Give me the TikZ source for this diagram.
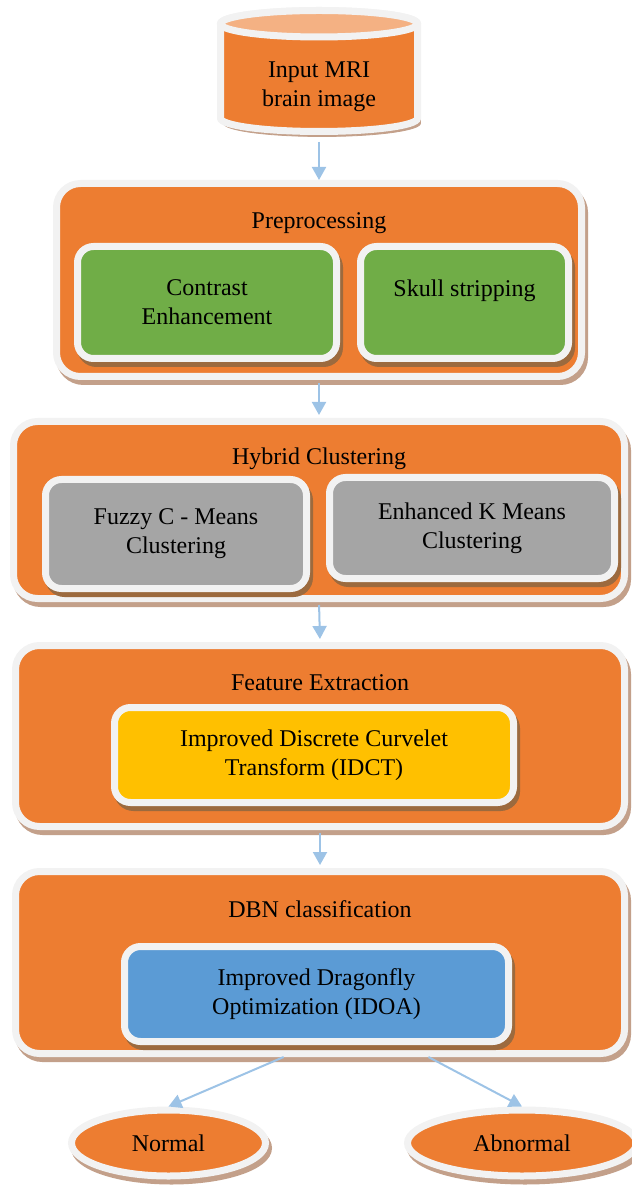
\documentclass[tikz,border=0pt]{standalone}
\usepackage{fontspec}
\setmainfont{Liberation Serif}
\usetikzlibrary{arrows.meta,positioning,shapes.geometric,calc}
\definecolor{ornge}{HTML}{ED7D31}
\definecolor{rim}{HTML}{F2F2F2}
\definecolor{leaf}{HTML}{70AD47}
\definecolor{stone}{HTML}{A5A5A5}
\definecolor{gold}{HTML}{FFC000}
\definecolor{sky}{HTML}{5B9BD5}
\definecolor{peach}{HTML}{F4B183}
\definecolor{flow}{HTML}{9DC3E6}
\definecolor{shadeout}{HTML}{C3A08A}
\definecolor{shadein}{HTML}{9C6A3E}
\tikzset{outshadow/.style={preaction={draw=shadeout,fill=shadeout,transform canvas={shift={(1.5pt,-2.5pt)}}}}, inshadow/.style={preaction={draw=shadein,fill=shadein,transform canvas={shift={(1.5pt,-2.5pt)}}}}, drum/.style={draw=rim,line width=3.5pt,fill=ornge}, stage/.style={rectangle,rounded corners=12pt,draw=rim,line width=3.5pt,fill=ornge,inner sep=0pt,outshadow}, task/.style={rectangle,rounded corners=8pt,draw=rim,line width=3.5pt,inner sep=0pt,align=center,font=\fontsize{12}{14.5}\selectfont,inshadow}, heading/.style={font=\fontsize{12}{14.5}\selectfont,inner sep=0pt,align=center}, outcome/.style={ellipse,draw=rim,line width=3.5pt,fill=ornge,inner sep=0pt,minimum height=33pt,font=\fontsize{12}{14.5}\selectfont,outshadow}, flowarr/.style={-{Triangle[length=6.5pt,width=7pt]},draw=flow,line width=1pt}}

\begin{document}
\begin{tikzpicture}[x=0.5pt,y=-0.5pt]
\useasboundingbox (0,0) rectangle (631,1186);
% input drum
\path[drum,outshadow] (220.5,23.75) -- (220.5,118.25) arc[start angle=180,end angle=0,x radius=98.5,y radius=13.25] -- (417.5,23.75) arc[start angle=0,end angle=-180,x radius=98.5,y radius=13.25] -- cycle;
\path[drum,fill=peach] (319,23.75) ellipse [x radius=98.5,y radius=13.25];
\node[heading] (input) at (319,86.5) {Input MRI\\brain image};
\node[stage,minimum width=262.5pt,minimum height=96.5pt] (pre) at (319,280) {};
\node[heading] (pretitle) at (319,223) {Preprocessing};
\node[task,fill=leaf,minimum width=129.5pt,minimum height=56pt] (contrast) at (207,302.5) {Contrast\\Enhancement};
\node[task,fill=leaf,minimum width=104pt,minimum height=56pt] (skull) at (464.5,302.5) {Skull stripping\\\mbox{}};
\node[stage,minimum width=305.5pt,minimum height=88.5pt] (hyb) at (319,510) {};
\node[heading] (hybtitle) at (319,459) {Hybrid Clustering};
\node[task,fill=stone,minimum width=130.5pt,minimum height=54.5pt] (fcm) at (176,534) {Fuzzy C - Means\\Clustering};
\node[task,fill=stone,minimum width=142.5pt,minimum height=50.5pt] (ekm) at (472,528) {Enhanced K Means\\Clustering};
\node[stage,minimum width=304.5pt,minimum height=90.5pt] (feat) at (320,736) {};
\node[heading] (feattitle) at (320,683) {Feature Extraction};
\node[task,fill=gold,minimum width=199.5pt,minimum height=47.5pt] (idct) at (314,755) {Improved Discrete Curvelet\\Transform (IDCT)};
\node[stage,minimum width=304.5pt,minimum height=91pt] (dbn) at (320,962.5) {};
\node[heading] (dbntitle) at (320,909) {DBN classification};
\node[task,fill=sky,minimum width=192pt,minimum height=47.5pt] (idoa) at (316.5,994) {Improved Dragonfly\\Optimization (IDOA)};
\node[outcome,minimum width=97pt] (normal) at (168.5,1143) {Normal};
\node[outcome,minimum width=114.5pt] (abnormal) at (522,1143) {Abnormal};
% arrows between stages
\draw[flowarr,shorten <=15pt] (input.south) -- (pre.north);
\draw[flowarr,shorten <=1.5pt,shorten >=1.5pt] (pre.south) -- (hyb.north);
\draw[flowarr,shorten <=1.5pt,shorten >=1.5pt] (hyb.south) -- (feat.north);
\draw[flowarr,shorten <=1.5pt,shorten >=1.5pt] (feat.south) -- (dbn.north);
\draw[flowarr] ($(dbn.south west)!0.441!(dbn.south east)$) -- (normal.north);
\draw[flowarr] ($(dbn.south west)!0.676!(dbn.south east)$) -- (abnormal.north);
\end{tikzpicture}
\end{document}
